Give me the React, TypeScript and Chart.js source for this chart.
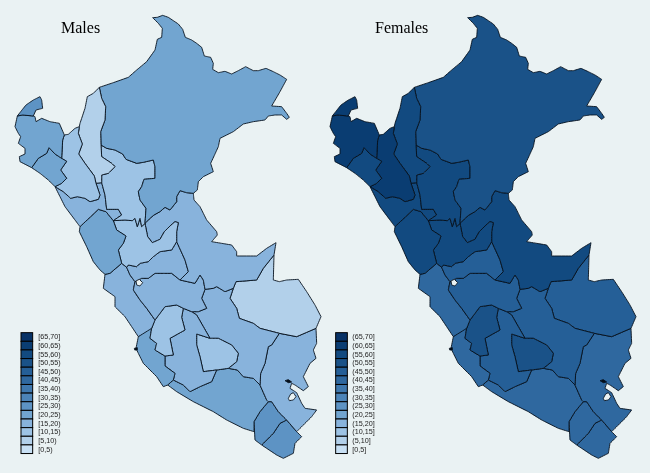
import React, { useEffect, useRef } from "react";
import { Chart, registerables } from "chart.js";

Chart.register(...registerables);

const tumbes = [52,348,68,345,100,348,108,330,128,325,125,300,120,290,100,300,78,315,62,335];
const piura = [52,348,45,380,55,400,62,410,55,430,75,445,75,462,58,470,60,485,95,503,115,475,140,460,147,443,165,462,185,475,188,420,193,405,178,370,150,365,125,355,108,365,105,350,100,348,68,345];
const lambayeque = [95,503,115,475,140,460,147,443,165,462,185,475,200,484,182,510,200,535,185,550,165,560,145,540,120,520];
const cajamarca = [193,405,205,403,225,385,238,380,235,400,247,432,236,462,255,490,283,528,288,550,300,585,295,598,270,605,255,595,232,590,212,595,190,575,165,560,185,550,200,535,182,510,200,484,185,475,188,420];
const amazonas = [298,262,280,280,262,290,255,325,240,370,238,380,235,400,247,432,236,462,255,490,283,528,288,550,305,548,305,525,325,520,345,500,335,490,305,470,303,435,302,395,315,360,317,320,305,295];
const loreto = [458,53,472,52,488,46,505,52,520,62,535,72,548,88,556,112,575,120,590,130,605,142,613,168,632,172,640,190,638,208,655,218,675,214,695,222,715,212,737,200,760,212,775,212,798,205,820,215,840,225,860,238,840,275,815,318,845,320,860,340,868,352,860,358,845,345,825,345,805,348,795,360,760,365,730,372,700,395,660,415,655,440,645,462,632,490,640,515,610,530,595,545,592,570,580,580,560,578,540,572,530,590,530,605,510,630,495,622,480,635,462,645,450,655,435,670,438,625,420,600,415,575,425,560,432,538,465,535,465,500,460,480,430,487,410,490,378,478,368,462,345,450,320,445,303,435,302,395,315,360,317,320,305,295,298,262,340,248,385,232,410,210,440,185,465,150,472,118,485,112,487,85,475,70];
const sanMartin = [435,670,425,680,420,655,412,680,405,655,397,662,375,660,340,662,365,645,355,628,320,628,315,585,305,548,305,525,325,520,345,500,335,490,305,470,303,435,320,445,345,450,368,462,378,478,410,490,430,487,460,480,465,500,465,535,432,538,425,560,415,575,420,600,438,625];
const laLibertad = [165,560,190,575,212,595,232,590,255,595,270,605,295,598,300,585,288,550,305,548,315,585,320,628,355,628,365,645,340,662,318,635,295,628,272,650,240,680,225,660,195,620,180,590];
const ancash = [240,680,272,650,295,628,318,635,340,662,350,690,378,708,370,730,355,750,365,790,330,820,315,823,300,810,280,785,260,740,238,695];
const huanuco = [340,662,375,660,397,662,405,655,412,680,420,655,425,680,435,670,443,710,457,728,480,718,493,695,510,678,525,665,535,668,530,695,530,725,515,750,480,755,460,770,445,785,420,790,410,800,385,795,380,802,365,790,355,750,370,730,378,708,350,690];
const ucayali = [435,670,450,655,462,645,480,635,495,622,510,630,530,605,530,590,540,572,560,578,580,580,582,600,600,620,620,660,650,695,652,705,635,725,665,730,695,735,710,755,710,768,770,768,800,745,828,728,822,765,790,805,770,840,708,845,700,865,675,875,650,860,640,865,615,868,610,840,600,825,585,850,540,840,565,815,555,780,530,725,530,695,535,668,525,665,510,678,493,695,480,718,457,728,443,710];
const pasco = [380,802,385,795,410,800,420,790,445,785,460,770,480,755,515,750,530,725,555,780,565,815,540,840,515,820,490,820,465,820,445,835,425,835,405,845,390,825];
const junin = [405,845,425,835,445,835,465,820,490,820,515,820,540,840,585,850,600,825,610,840,615,868,605,895,620,925,595,935,575,935,550,925,530,915,495,920,480,940,465,960,440,925,420,900,400,870];
const lima = [365,790,380,802,390,825,405,845,400,870,420,900,440,925,465,960,455,985,415,1010,395,980,375,950,345,920,345,890,310,865,315,823,330,820];
const huancavelica = [495,920,530,915,550,925,545,952,555,990,510,1015,520,1065,495,1068,465,1050,470,1030,450,1015,455,985,465,960,480,940];
const ica = [415,1010,440,988,455,985,450,1015,470,1030,465,1050,495,1068,495,1098,525,1120,520,1140,503,1155,490,1160,470,1130,430,1090,415,1060,408,1045];
const ayacucho = [550,925,575,935,590,945,610,980,630,1015,590,1002,590,1035,600,1070,610,1115,650,1110,635,1145,600,1160,570,1175,550,1155,520,1140,525,1120,495,1098,495,1068,520,1065,510,1015,555,990,545,952];
const apurimac = [590,1002,630,1015,655,1015,695,1035,715,1060,710,1085,685,1105,650,1110,610,1115,600,1070,590,1035];
const cusco = [615,868,640,865,650,860,675,875,700,865,690,895,710,925,718,955,760,970,780,985,838,1000,815,1035,805,1040,795,1090,782,1120,780,1155,760,1135,730,1130,712,1110,685,1105,710,1085,715,1060,695,1035,655,1015,630,1015,610,980,590,945,575,935,595,935,620,925,605,895];
const madreDeDios = [822,765,820,840,838,845,860,840,895,838,920,875,945,915,963,950,948,985,890,1010,838,1000,780,985,760,970,718,955,710,925,690,895,700,865,708,845,770,840,790,805];
const puno = [838,1000,890,1010,948,985,950,1030,940,1050,948,1075,930,1090,910,1130,925,1160,910,1172,885,1155,875,1150,870,1165,890,1178,905,1210,915,1225,950,1230,935,1250,910,1275,890,1295,860,1260,835,1235,815,1205,805,1205,800,1200,780,1155,782,1120,795,1090,805,1040,815,1035];
const arequipa = [503,1155,520,1140,550,1155,570,1175,600,1160,635,1145,650,1110,685,1105,712,1110,730,1130,760,1135,780,1155,800,1200,805,1205,780,1235,762,1265,762,1295,730,1285,680,1260,640,1235,580,1205,530,1175];
const moquegua = [805,1205,815,1205,835,1235,840,1240,860,1260,840,1270,820,1300,785,1335,765,1320,762,1265,780,1235];
const tacna = [840,1270,860,1260,890,1295,905,1310,885,1330,880,1360,850,1375,830,1365,785,1335,820,1300];
const lakeJunin = [408,843,418,838,428,848,420,858,410,855];
const lakeTiticaca = [865,1195,872,1182,880,1178,888,1190,880,1200,868,1202];
const islandTaquile = [855,1142,865,1139,875,1146,865,1148];
const islandCoast = [403,1045,412,1043,412,1050,404,1050];

const regions = [tumbes, piura, lambayeque, cajamarca, amazonas, loreto, sanMartin, laLibertad, ancash, huanuco, ucayali, pasco, junin, lima, huancavelica, ica, ayacucho, apurimac, cusco, madreDeDios, puno, arequipa, moquegua, tacna];
const lakes = [lakeJunin, lakeTiticaca];
const islands = [islandTaquile, islandCoast];

const maleValues = [27, 22, 23, 12, 7, 22, 12, 18, 22, 12, 18, 17, 17, 18, 12, 22, 17, 12, 17, 7, 17, 22, 27, 27];
const femaleValues = [62, 62, 57, 62, 57, 52, 57, 57, 57, 57, 57, 47, 47, 42, 52, 42, 47, 52, 47, 47, 42, 42, 42, 42];

const binColors = ["#C8E0F4", "#B2D0EA", "#9DC3E5", "#88B3DC", "#72A5D0", "#5D93C4", "#4C84B8", "#3F78AE", "#2F689F", "#255F97", "#1A5288", "#124A80", "#0A3D72", "#083266"];
const maleLabels = ["[65,70]", "[60,65)", "[55,60)", "[50,55)", "[45,50)", "[40,45)", "[35,40)", "[30,35)", "[25,30)", "[20,25)", "[15,20)", "[10,15)", "[5,10)", "[0,5)"];
const femaleLabels = ["(65,70]", "(60,65]", "(55,60]", "(50,55]", "(45,50]", "(40,45]", "(35,40]", "(30,35]", "(25,30]", "(20,25]", "(15,20]", "(10,15]", "(5,10]", "[0,5]"];

const BG = "#EAF2F3";
const PANEL_OFFSET = 945;

const toPoints = (flat: number[], dx: number) => {
  const pts: { x: number; y: number }[] = [];
  for (let i = 0; i < flat.length; i += 2) pts.push({ x: flat[i] + dx, y: flat[i + 1] });
  pts.push({ x: flat[0] + dx, y: flat[1] });
  return pts;
};

const colorOf = (v: number) => binColors[Math.min(13, Math.floor(v / 5))];

const polygon = (poly: number[], dx: number, color: string, order: number) => ({
  data: toPoints(poly, dx),
  backgroundColor: color,
  borderColor: "#05101c",
  borderWidth: 0.9,
  fill: "shape",
  pointRadius: 0,
  tension: 0.001,
  order,
});

const panelDatasets = (values: number[], dx: number) => [
  ...lakes.map((poly) => polygon(poly, dx, BG, -1)),
  ...islands.map((poly) => polygon(poly, dx, "#05101c", -1)),
  ...regions.map((poly, i) => polygon(poly, dx, colorOf(values[i]), 0)),
];

const overlay = {
  id: "overlay",
  afterDatasetsDraw(chart: any) {
    const { ctx, scales } = chart;
    const X = (v: number) => scales.x.getPixelForValue(v);
    const Y = (v: number) => scales.y.getPixelForValue(v);
    ctx.save();
    ctx.fillStyle = "#000";
    ctx.textBaseline = "alphabetic";
    ctx.font = '16px "Liberation Serif"';
    ctx.fillText("Males", X(183), Y(100));
    ctx.fillText("Females", X(1125), Y(100));
    const draw = (labels: string[], keyX: number, textX: number) => {
      const keyW = 35;
      const keyH = 25.9;
      labels.forEach((label, i) => {
        const top = 998 + i * keyH;
        ctx.fillStyle = binColors[13 - i];
        ctx.strokeStyle = "#000";
        ctx.lineWidth = 1;
        ctx.fillRect(X(keyX), Y(top), X(keyW) - X(0), Y(keyH) - Y(0));
        ctx.strokeRect(X(keyX), Y(top), X(keyW) - X(0), Y(keyH) - Y(0));
        ctx.fillStyle = "#222";
        ctx.font = '7.2px "Liberation Sans"';
        ctx.textBaseline = "middle";
        ctx.fillText(label, X(textX), Y(top + keyH / 2 + 1));
      });
    };
    draw(maleLabels, 63, 115);
    draw(femaleLabels, 1007, 1057);
    ctx.restore();
  },
};

export default function App() {
  const ref = useRef<HTMLCanvasElement>(null);
  useEffect(() => {
    const chart = new Chart(ref.current as HTMLCanvasElement, {
      type: "line",
      data: { datasets: [...panelDatasets(maleValues, 0), ...panelDatasets(femaleValues, PANEL_OFFSET)] as any },
      options: {
        animation: false,
        responsive: false,
        layout: { padding: 0 },
        plugins: { legend: { display: false }, tooltip: { enabled: false } },
        scales: {
          x: { type: "linear", display: false, min: 0, max: 1950 },
          y: { type: "linear", display: false, min: 0, max: 1419, reverse: true },
        },
      },
      plugins: [overlay],
    });
    return () => chart.destroy();
  }, []);
  return (
    <div style={{ position: "fixed", left: 0, top: 0, width: 650, height: 473, background: BG }}>
      <canvas ref={ref} width={650} height={473} style={{ display: "block" }} />
    </div>
  );
}
